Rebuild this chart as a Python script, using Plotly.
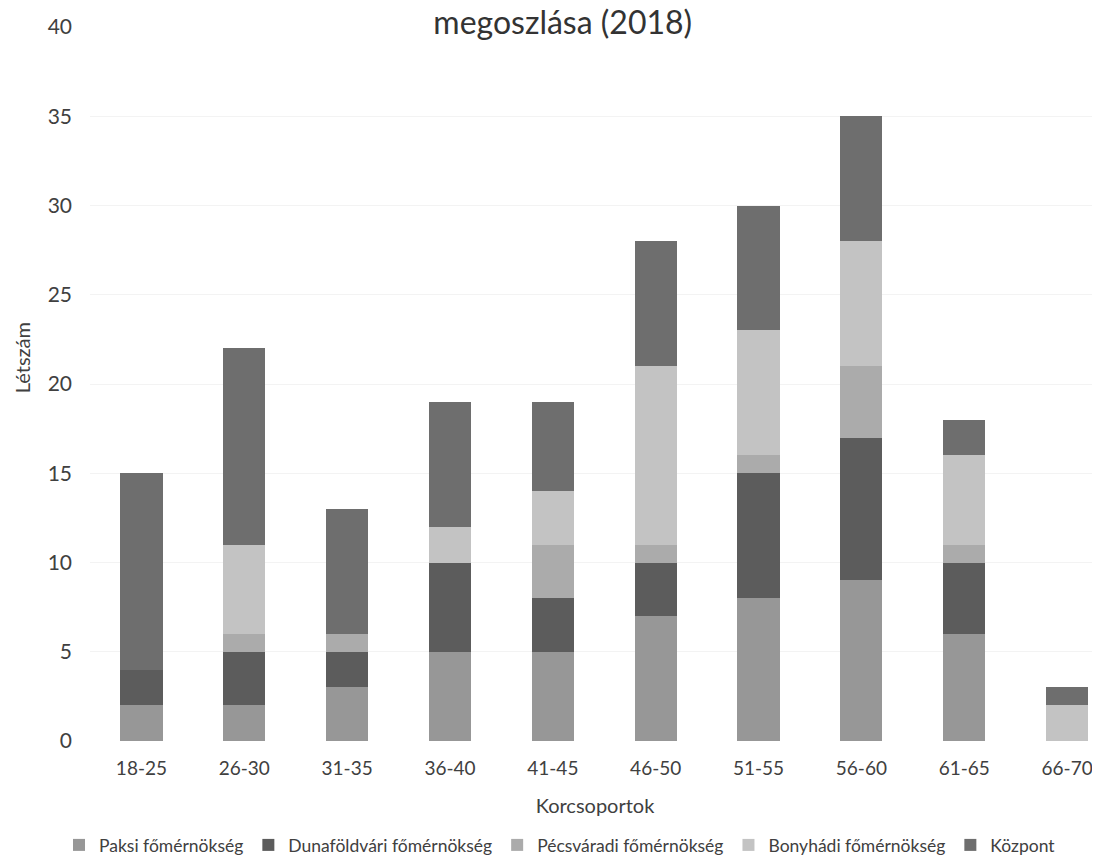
import plotly.graph_objects as go

categories = ["18-25", "26-30", "31-35", "36-40", "41-45", "46-50", "51-55", "56-60", "61-65", "66-70"]
paksi = [2, 2, 3, 5, 5, 7, 8, 9, 6, 0]
dunafoldvari = [2, 3, 2, 5, 3, 3, 7, 8, 4, 0]
pecsvaradi = [0, 1, 1, 0, 3, 1, 1, 4, 1, 0]
bonyhadi = [0, 5, 0, 2, 3, 10, 7, 7, 5, 2]
kozpont = [11, 11, 7, 7, 5, 7, 7, 7, 2, 1]

series = [
    ("Paksi főmérnökség", paksi, "#979797"),
    ("Dunaföldvári főmérnökség", dunafoldvari, "#5c5c5c"),
    ("Pécsváradi főmérnökség", pecsvaradi, "#ababab"),
    ("Bonyhádi főmérnökség", bonyhadi, "#c3c3c3"),
    ("Központ", kozpont, "#6e6e6e"),
]

fig = go.Figure()
for name, vals, col in series:
    fig.add_trace(go.Bar(x=categories, y=vals, name=name, marker_color=col,
                         marker_line_width=0))

font_family = "Lato, Open Sans, sans-serif"
fig.update_layout(
    barmode="stack",
    bargap=0.59,
    width=1092, height=849,
    margin=dict(l=82, r=0, t=19, b=116, autoexpand=False),
    paper_bgcolor="white", plot_bgcolor="white",
    font=dict(family=font_family, color="#404040", size=17),
    title=dict(text="megoszlása (2018)", x=0.508, xanchor="center", y=0.982, yanchor="middle",
               font=dict(size=32, color="#333333")),
    xaxis=dict(range=[-0.5, 9.32], showline=False, ticks="", automargin=False,
               tickfont=dict(size=19, color="#404040"), ticklabelstandoff=14,
               title=dict(text="Korcsoportok", font=dict(size=20, color="#404040"), standoff=20)),
    yaxis=dict(range=[0, 40], dtick=5, showgrid=True, gridcolor="#f3f3f3", zeroline=False,
               automargin=False,
               tickfont=dict(size=21, color="#404040"), ticklabelstandoff=17),
    legend=dict(orientation="h", xref="container", x=0.5055, xanchor="center",
                yref="container", y=0.0141, yanchor="middle",
                font=dict(size=17.5, color="#404040"), itemwidth=30, traceorder="normal"),
    annotations=[dict(text="Létszám", xref="paper", yref="paper", x=-0.0673, y=0.536,
                      xanchor="center", yanchor="middle", textangle=-90, showarrow=False,
                      font=dict(size=20, color="#404040"))],
)

fig.write_html("out.html")
